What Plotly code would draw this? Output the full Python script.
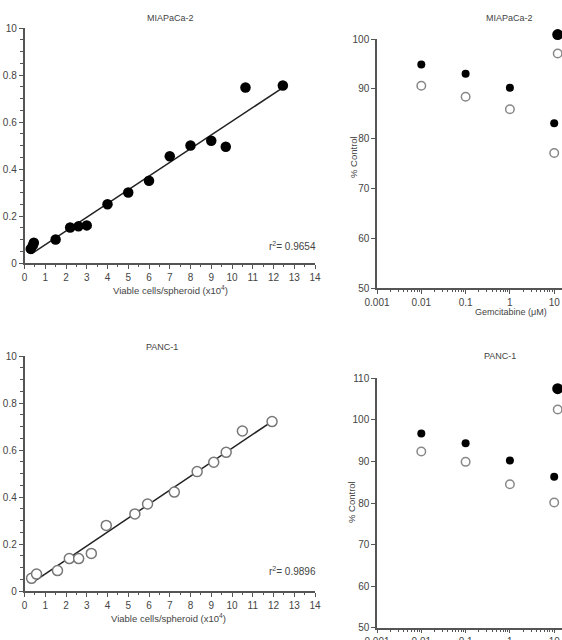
import plotly.graph_objects as go

# ---------------- data ----------------
# Left panels: absorbance vs viable cells/spheroid (x10^4)
mia_cells = [0.3, 0.4, 0.45, 1.5, 2.2, 2.6, 3.0, 4.0, 5.0, 6.0, 7.0, 8.0, 9.0, 9.7, 10.65, 12.45]
mia_od = [0.06, 0.075, 0.086, 0.10, 0.151, 0.156, 0.16, 0.25, 0.30, 0.35, 0.454, 0.50, 0.52, 0.495, 0.747, 0.755]
mia_fit_x = [0.35, 12.4]
mia_fit_y = [0.04, 0.743]
mia_r2 = "0.9654"

panc_cells = [0.34, 0.58, 1.59, 2.16, 2.61, 3.22, 3.94, 5.32, 5.93, 7.22, 8.32, 9.12, 9.72, 10.5, 11.93]
panc_od = [0.054, 0.072, 0.087, 0.138, 0.138, 0.16, 0.279, 0.328, 0.37, 0.421, 0.508, 0.548, 0.59, 0.681, 0.721]
panc_fit_x = [0.45, 11.9]
panc_fit_y = [0.04, 0.72]
panc_r2 = "0.9896"

left_yticks = [0, 0.2, 0.4, 0.6, 0.8, 1.0]
left_yticklabels = ["0", "0.2", "0.4", "0.6", "0.8", "10"]
left_xticks = list(range(0, 15))

# Right panels: % control vs gemcitabine (uM)
gem_conc = [0.01, 0.1, 1, 10]
mia_filled = [94.9, 93.0, 90.2, 83.1]
mia_open = [90.6, 88.4, 85.9, 77.1]
panc_filled = [96.7, 94.4, 90.2, 86.3]
panc_open = [92.4, 89.9, 84.5, 80.1]
# markers cut at the right edge of the picture
edge_conc = [12]
mia_edge_filled = [100.9]
mia_edge_open = [97.1]
panc_edge_filled = [107.5]
panc_edge_open = [102.5]

gem_ticks = [0.001, 0.01, 0.1, 1, 10]
gem_ticklabels = ["0.001", "0.01", "0.1", "1", "10"]

# ---------------- figure ----------------
W, H = 562, 640
FONT = "Arial, Liberation Sans, sans-serif"
TXT = "#444444"
AX = "#555555"

def px(x):
    return x / W

def py(y):
    return 1 - y / H

fig = go.Figure()

filled_big = dict(color="black", size=10.5, line=dict(width=0))
open_big = dict(color="white", size=10, line=dict(color="#777777", width=1.5))
filled_small = dict(color="black", size=8, line=dict(width=0))
open_small = dict(color="white", size=8.5, line=dict(color="#888888", width=1.5))
edge_filled = dict(color="black", size=11, line=dict(width=0))

# top-left
fig.add_trace(go.Scatter(x=mia_fit_x, y=mia_fit_y, mode="lines",
                         line=dict(color="#222222", width=1.5), xaxis="x", yaxis="y"))
fig.add_trace(go.Scatter(x=mia_cells, y=mia_od, mode="markers", marker=filled_big,
                         xaxis="x", yaxis="y"))
# bottom-left
fig.add_trace(go.Scatter(x=panc_fit_x, y=panc_fit_y, mode="lines",
                         line=dict(color="#222222", width=1.5), xaxis="x3", yaxis="y3"))
fig.add_trace(go.Scatter(x=panc_cells, y=panc_od, mode="markers", marker=open_big,
                         xaxis="x3", yaxis="y3"))
# top-right
fig.add_trace(go.Scatter(x=gem_conc, y=mia_filled, mode="markers", marker=filled_small,
                         xaxis="x2", yaxis="y2", cliponaxis=False))
fig.add_trace(go.Scatter(x=gem_conc, y=mia_open, mode="markers", marker=open_small,
                         xaxis="x2", yaxis="y2", cliponaxis=False))
# edge markers use a hidden y axis with the same scale, extended upward a little
fig.add_trace(go.Scatter(x=edge_conc, y=mia_edge_filled, mode="markers",
                         marker=edge_filled, xaxis="x2", yaxis="y5", cliponaxis=False))
fig.add_trace(go.Scatter(x=edge_conc, y=mia_edge_open, mode="markers", marker=open_small,
                         xaxis="x2", yaxis="y5", cliponaxis=False))
# bottom-right
fig.add_trace(go.Scatter(x=gem_conc, y=panc_filled, mode="markers", marker=filled_small,
                         xaxis="x4", yaxis="y4", cliponaxis=False))
fig.add_trace(go.Scatter(x=gem_conc, y=panc_open, mode="markers", marker=open_small,
                         xaxis="x4", yaxis="y4", cliponaxis=False))
fig.add_trace(go.Scatter(x=edge_conc, y=panc_edge_filled, mode="markers",
                         marker=edge_filled, xaxis="x4", yaxis="y4", cliponaxis=False))
fig.add_trace(go.Scatter(x=edge_conc, y=panc_edge_open, mode="markers", marker=open_small,
                         xaxis="x4", yaxis="y4", cliponaxis=False))

tickfont = dict(family=FONT, size=10, color=TXT)

common = dict(showline=True, linecolor=AX, linewidth=1.5, ticks="outside",
              ticklen=4, tickwidth=1.2, tickcolor=AX, showgrid=False, zeroline=False,
              tickfont=tickfont, automargin=False)

def lin_x(domain, anchor):
    return dict(domain=domain, anchor=anchor, range=[0, 14], tickmode="array",
                tickvals=left_xticks, ticktext=[str(v) for v in left_xticks],
                minor=dict(dtick=0.5, ticks="outside", ticklen=2.5, tickcolor=AX,
                           tickwidth=1, showgrid=False), **common)

def lin_y(domain, anchor):
    return dict(domain=domain, anchor=anchor, range=[0, 1.0], tickmode="array",
                tickvals=left_yticks, ticktext=left_yticklabels,
                minor=dict(dtick=0.05, ticks="outside", ticklen=2.5, tickcolor=AX,
                           tickwidth=1, showgrid=False), **common)

minor_log = [m * 10 ** e for e in range(-3, 2) for m in range(2, 10)]

def log_x(domain, anchor):
    return dict(domain=domain, anchor=anchor, type="log", range=[-3, 1.176],
                tickmode="array", tickvals=gem_ticks, ticktext=gem_ticklabels,
                minor=dict(tickmode="array", tickvals=minor_log, ticks="outside",
                           ticklen=2.5, tickcolor=AX, tickwidth=1, showgrid=False),
                **common)

def pct_y(domain, anchor, rng, dt):
    return dict(domain=domain, anchor=anchor, range=rng, dtick=dt, tick0=50, **common)

# top-right scale: 50..100 over pixels 288..39
y2_bot, y2_top = 288, 39
scale2 = (y2_bot - y2_top) / 50.0
ext_top = 20  # pixel position of the hidden axis top
y5_max = 50 + (y2_bot - ext_top) / scale2

fig.update_layout(
    width=W, height=H, margin=dict(l=0, r=0, t=0, b=0, autoexpand=False),
    paper_bgcolor="white", plot_bgcolor="rgba(0,0,0,0)", showlegend=False,
    font=dict(family=FONT, color=TXT),
    xaxis=lin_x([px(24.5), px(315)], "y"),
    yaxis=lin_y([py(263), py(28)], "x"),
    xaxis3=lin_x([px(24.5), px(315)], "y3"),
    yaxis3=lin_y([py(591), py(356)], "x3"),
    xaxis2=log_x([px(377), 1], "y2"),
    yaxis2=pct_y([py(y2_bot), py(y2_top)], "x2", [50, 100], 10),
    yaxis5=dict(domain=[py(y2_bot), py(ext_top)], anchor="x2", range=[50, y5_max],
                visible=False, showgrid=False, zeroline=False, automargin=False),
    xaxis4=log_x([px(377), 1], "y4"),
    yaxis4=pct_y([py(627.7), py(378.3)], "x4", [50, 110], 10),
)

def note(text, x, y, size=9.5, angle=0, xanchor="center"):
    fig.add_annotation(text=text, x=px(x), y=py(y), xref="paper", yref="paper",
                       showarrow=False, textangle=angle, xanchor=xanchor, yanchor="middle",
                       font=dict(family=FONT, size=size, color=TXT))

note("MIAPaCa-2", 170, 18, 9)
note("PANC-1", 162, 347, 9)
note("MIAPaCa-2", 509, 18, 9)
note("PANC-1", 500, 356, 9)
note("Viable cells/spheroid (x10<sup>4</sup>)", 170, 290)
note("Viable cells/spheroid (x10<sup>4</sup>)", 168, 618)
note("Gemcitabine (μM)", 511, 312, 9)
note("% Control", 353, 157, 9.5, -90)
note("% Control", 351, 502, 9.5, -90)
note("r<sup>2</sup>= " + mia_r2, 318, 246, 10, 0, "right")
note("r<sup>2</sup>= " + panc_r2, 318, 571, 10, 0, "right")

fig.write_html(
    "out.html",
    config={"displayModeBar": False},
    post_script="document.body.style.margin='0';document.body.style.overflow='hidden';",
)
